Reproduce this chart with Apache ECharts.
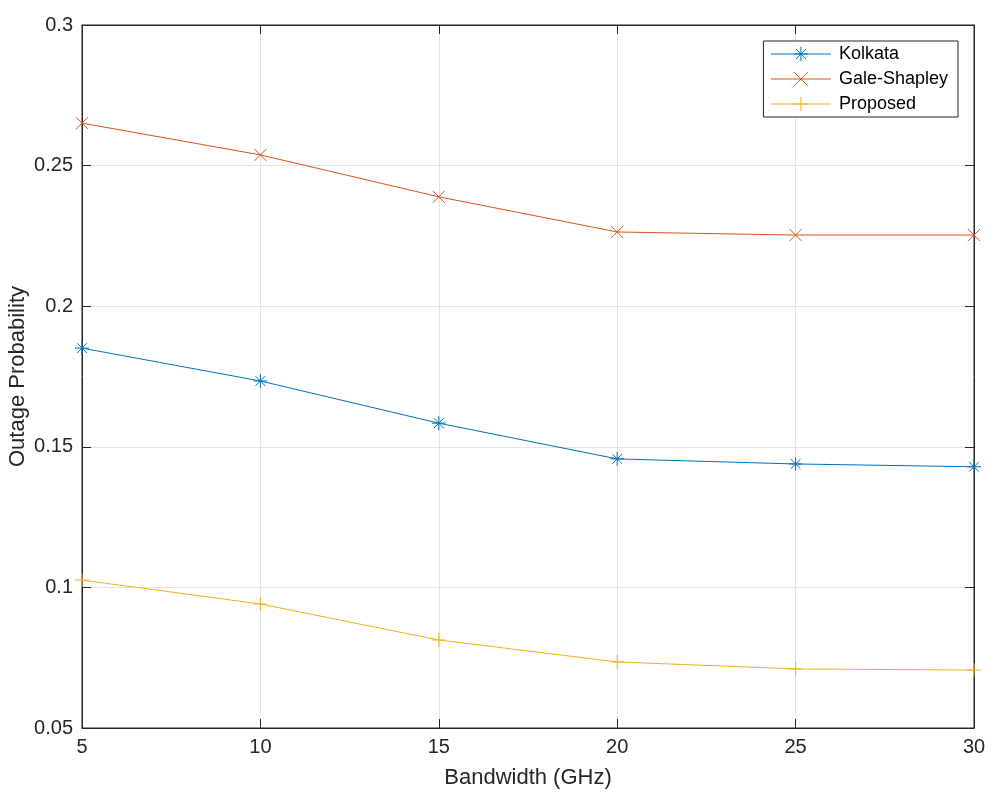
<!DOCTYPE html>
<html><head><meta charset="utf-8">
<script src="https://cdn.jsdelivr.net/npm/echarts@6/dist/echarts.min.js"></script>
<style>html,body{margin:0;padding:0;background:#fff}#c{width:999px;height:804px}</style>
</head><body><div id="c"></div>
<script>
const bandwidth = [5, 10, 15, 20, 25, 30];
const kolkata = [0.1851, 0.1734, 0.1584, 0.1457, 0.1439, 0.1429];
const galeShapley = [0.2651, 0.2538, 0.2389, 0.2264, 0.2253, 0.2253];
const proposed = [0.1026, 0.0941, 0.0813, 0.0735, 0.0710, 0.0706];
const yTicks = ['0.05','0.1','0.15','0.2','0.25','0.3'];

const colors = ['#0072BD', '#D95319', '#EDB120'];
const asterisk = 'path://M0,-10 L0,10 M-10,0 L10,0 M-7,-7 L7,7 M-7,7 L7,-7';
const cross = 'path://M-7,-7 L7,7 M-7,7 L7,-7';
const plus = 'path://M0,-10 L0,10 M-10,0 L10,0';
const font = 'Liberation Sans, Arial, Helvetica, sans-serif';

function mk(name, ys, color, sym, size) {
  return {
    name, type: 'line',
    data: bandwidth.map((x, i) => [x, ys[i]]),
    symbol: sym, symbolSize: size, showSymbol: true,
    lineStyle: { color, width: 1 },
    itemStyle: { color: 'rgba(0,0,0,0)', borderColor: color, borderWidth: 1 },
    emphasis: { disabled: true },
    animation: false
  };
}

const axisCommon = {
  axisLine: { show: true, lineStyle: { color: '#262626' } },
  axisTick: { show: true, inside: true, length: 9, lineStyle: { color: '#262626' } }
};

const chart = echarts.init(document.getElementById('c'));
chart.setOption({
  backgroundColor: '#fff',
  animation: false,
  grid: { left: 82, right: 25, top: 25, bottom: 76, outerBoundsMode: 'none', containLabel: false,
          show: true, borderColor: '#262626', borderWidth: 1, backgroundColor: 'transparent' },
  legend: {
    data: ['Kolkata', 'Gale-Shapley', 'Proposed'],
    orient: 'vertical',
    right: 41, top: 41,
    itemWidth: 60, itemHeight: 18, itemGap: 7,
    padding: [4, 10, 4, 7],
    backgroundColor: '#fff',
    borderColor: '#262626', borderWidth: 1,
    lineStyle: { width: 1 },
    itemStyle: { borderWidth: 1 },
    textStyle: { fontFamily: font, fontSize: 18, color: '#000', padding: [0, 0, 0, 3] }
  },
  xAxis: [{
    type: 'value', min: 5, max: 30, interval: 5,
    name: 'Bandwidth (GHz)', nameLocation: 'middle', nameGap: 39, nameMoveOverlap: false,
    nameTextStyle: { fontFamily: font, fontSize: 22, color: '#262626' },
    ...axisCommon,
    axisLabel: { fontFamily: font, fontSize: 20, color: '#262626', margin: 9 },
    splitLine: { show: true, lineStyle: { color: '#e3e3e3' } }
  }, {
    type: 'value', min: 5, max: 30, interval: 5, position: 'top',
    ...axisCommon, axisLabel: { show: false }, splitLine: { show: false }
  }],
  yAxis: [{
    type: 'value', min: 0.05, max: 0.3, interval: 0.05,
    name: 'Outage Probability', nameLocation: 'middle', nameGap: 53, nameMoveOverlap: false,
    nameTextStyle: { fontFamily: font, fontSize: 22, color: '#262626' },
    ...axisCommon,
    axisLabel: { fontFamily: font, fontSize: 20, color: '#262626', margin: 9,
      formatter: v => { const s = yTicks.find(t => Math.abs(parseFloat(t) - v) < 1e-9); return s || ''; } },
    splitLine: { show: true, lineStyle: { color: '#e3e3e3' } }
  }, {
    type: 'value', min: 0.05, max: 0.3, interval: 0.05, position: 'right',
    ...axisCommon, axisLabel: { show: false }, splitLine: { show: false }
  }],
  series: [
    mk('Kolkata', kolkata, colors[0], asterisk, 14),
    mk('Gale-Shapley', galeShapley, colors[1], cross, 12),
    mk('Proposed', proposed, colors[2], plus, 14)
  ]
});
</script>
</body></html>
